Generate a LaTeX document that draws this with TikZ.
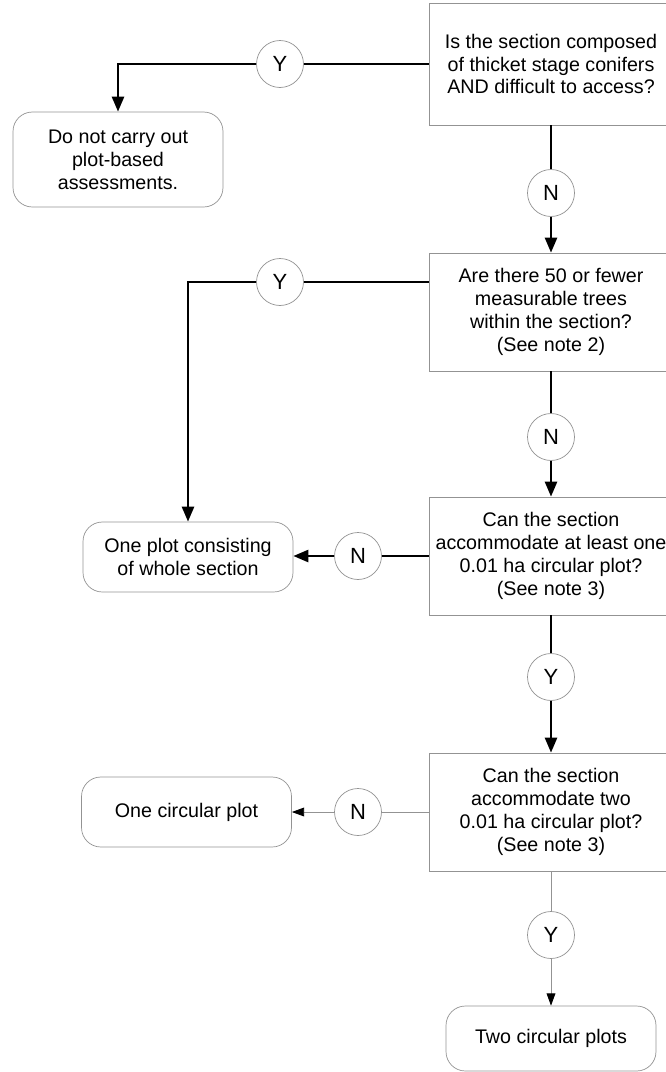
\documentclass[tikz,border=0pt]{standalone}
\usepackage{fontspec}
\setmainfont{Liberation Sans}
\usetikzlibrary{arrows.meta}
\begin{document}
\begin{tikzpicture}[x=0.02cm,y=-0.02cm,font=\fontsize{11.2}{13}\selectfont,
  question/.style={draw=gray!85,minimum width=4.88cm,minimum height=2.36cm,align=center,inner sep=0pt},
  outcome/.style={draw=gray!85,rounded corners=11pt,minimum width=4.2cm,minimum height=1.4cm,align=center,inner sep=0pt},
  answer/.style={circle,draw=gray!85,fill=white,minimum size=0.94cm,inner sep=0pt,font=\fontsize{12.5}{14}\selectfont},
  heavy/.style={line width=1.4pt},
  light/.style={line width=0.5pt,gray!85},
  bighead/.style={-{Triangle[length=8.5pt,width=6.8pt]}},
  smallhead/.style={-{Triangle[length=7pt,width=5pt,black]}}]
\useasboundingbox (0,0) rectangle (666,1072);

\node[question,minimum height=2.44cm] (q1) at (551,64) {Is the section composed\\of thicket stage conifers\\AND difficult to access?};
\node[question] (q2) at (551,312) {Are there 50 or fewer\\measurable trees\\within the section?\\(See note 2)};
\node[question] (q3) at (551,556) {Can the section\\accommodate at least one\\0.01 ha circular plot?\\(See note 3)};
\node[question] (q4) at (551,812) {Can the section\\accommodate two\\0.01 ha circular plot?\\(See note 3)};

\node[outcome,minimum height=1.9cm] (t1) at (118,159.5) {Do not carry out\\plot-based\\assessments.};
\node[outcome] (t2) at (188,557) {One plot consisting\\of whole section};
\node[outcome] (t3) at (186.5,812) {One circular plot};
\node[outcome,minimum height=1.3cm] (t4) at (551,1038.5) {Two circular plots};

\node[answer] (y1) at (280,64) {Y};
\node[answer] (n1) at (551,193) {N};
\node[answer] (y2) at (280,282) {Y};
\node[answer] (n2) at (551,437) {N};
\node[answer] (n3) at (358,556) {N};
\node[answer] (y3) at (551,677) {Y};
\node[answer] (n4) at (358,812) {N};
\node[answer] (y4) at (551,935) {Y};

\draw[heavy] (q1.west) -- (y1);
\draw[heavy,bighead] (y1) -| (t1.north);
\draw[heavy] (q1.south) -- (n1);
\draw[heavy,bighead] (n1) -- (q2.north);

\draw[heavy] (q2.west |- y2) -- (y2);
\draw[heavy,bighead] (y2) -| (t2.north);
\draw[heavy] (q2.south) -- (n2);
\draw[heavy,bighead] (n2) -- (q3.north);

\draw[heavy] (q3.west) -- (n3);
\draw[heavy,bighead] (n3) -- (t2.east |- n3);
\draw[heavy] (q3.south) -- (y3);
\draw[heavy,bighead] (y3) -- (q4.north);

\draw[light] (q4.west) -- (n4);
\draw[light,smallhead] (n4) -- (t3.east);
\draw[light] (q4.south) -- (y4);
\draw[light,smallhead] (y4) -- (t4.north);

\end{tikzpicture}
\end{document}
